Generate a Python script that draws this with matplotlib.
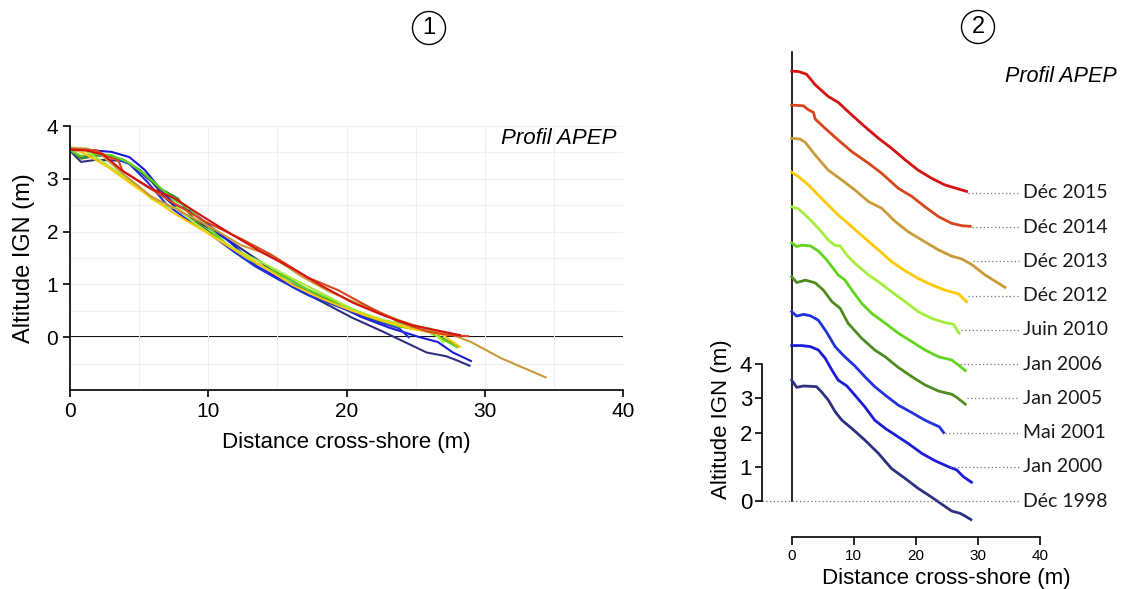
import numpy as np
import matplotlib
matplotlib.use('Agg')
import matplotlib.pyplot as plt
from matplotlib.patches import Ellipse
from matplotlib.ticker import MultipleLocator

plt.rcParams['font.family'] = ['Liberation Sans', 'DejaVu Sans']

# Profile data (distance cross-shore in m, altitude IGN in m)
dist_1998 = [0, 0.8, 1.9, 4.0, 4.8, 5.9, 7.0, 8.1, 9.7, 11.8, 14.0, 16.1, 18.3, 20.4, 22.6, 24.2, 25.8, 27.2, 28.0, 28.9]
alt_1998 = [3.53, 3.32, 3.36, 3.34, 3.19, 2.95, 2.61, 2.36, 2.12, 1.78, 1.39, 0.95, 0.66, 0.37, 0.11, -0.09, -0.29, -0.36, -0.44, -0.54]

dist_2000 = [0, 1.6, 3.0, 4.3, 5.4, 6.5, 7.5, 8.9, 10.2, 11.8, 13.4, 15.1, 16.7, 18.8, 21.0, 23.1, 25.3, 26.6, 27.7, 29.0]
alt_2000 = [3.54, 3.54, 3.51, 3.41, 3.17, 2.82, 2.53, 2.36, 2.09, 1.75, 1.36, 1.12, 0.93, 0.68, 0.39, 0.18, 0.0, -0.09, -0.29, -0.45]

dist_2001 = [0, 0.8, 1.9, 3.0, 4.3, 5.6, 7.0, 8.3, 10.2, 11.8, 13.4, 15.1, 17.2, 19.4, 21.5, 22.8, 23.8, 24.5]
alt_2001 = [3.53, 3.40, 3.45, 3.41, 3.28, 2.94, 2.51, 2.26, 1.94, 1.63, 1.34, 1.09, 0.80, 0.58, 0.36, 0.25, 0.17, 0.0]

dist_2005 = [0, 0.8, 2.2, 3.8, 5.1, 6.5, 7.8, 9.1, 11.3, 13.4, 15.1, 17.2, 19.4, 21.5, 23.7, 25.8, 26.6, 28.0]
alt_2005 = [3.55, 3.38, 3.45, 3.37, 3.16, 2.82, 2.63, 2.19, 1.75, 1.41, 1.21, 0.90, 0.63, 0.39, 0.21, 0.12, 0.03, -0.17]

dist_2006 = [0, 0.8, 1.6, 3.0, 4.3, 5.4, 6.5, 7.5, 8.6, 9.7, 11.3, 12.9, 15.1, 17.2, 19.4, 21.5, 23.7, 25.8, 26.9, 28.0]
alt_2006 = [3.54, 3.43, 3.47, 3.45, 3.30, 3.09, 2.84, 2.60, 2.45, 2.16, 1.77, 1.48, 1.19, 0.90, 0.65, 0.41, 0.21, 0.12, -0.03, -0.19]

dist_2010 = [0, 1.1, 2.2, 3.8, 4.8, 5.9, 7.0, 7.8, 8.9, 10.2, 12.4, 14.0, 16.1, 18.3, 20.4, 22.6, 24.7, 26.1, 26.5, 27.0]
alt_2010 = [3.59, 3.53, 3.35, 3.06, 2.86, 2.62, 2.46, 2.45, 2.18, 1.94, 1.60, 1.40, 1.11, 0.82, 0.53, 0.33, 0.21, 0.16, 0.04, -0.10]

dist_2012 = [0, 1.1, 2.7, 4.3, 5.9, 7.5, 9.7, 11.8, 14.0, 16.1, 18.3, 20.4, 22.6, 24.7, 26.9, 28.2]
alt_2012 = [3.60, 3.47, 3.23, 2.93, 2.64, 2.35, 2.01, 1.67, 1.33, 0.99, 0.72, 0.50, 0.31, 0.16, 0.05, -0.18]

dist_2013 = [0, 1.3, 2.2, 3.8, 5.9, 8.1, 10.2, 12.4, 14.5, 16.7, 18.8, 21.0, 23.7, 25.8, 27.4, 29.0, 31.2, 34.4]
alt_2013 = [3.59, 3.57, 3.47, 3.10, 2.66, 2.37, 2.08, 1.74, 1.55, 1.16, 0.86, 0.62, 0.33, 0.15, 0.07, -0.09, -0.40, -0.76]

dist_2014 = [0, 1.9, 2.7, 3.5, 3.8, 5.4, 7.5, 9.7, 12.4, 14.5, 17.2, 19.4, 21.5, 23.7, 25.8, 27.4, 28.8]
alt_2014 = [3.56, 3.54, 3.42, 3.35, 3.15, 2.88, 2.54, 2.20, 1.86, 1.57, 1.13, 0.89, 0.59, 0.30, 0.11, 0.04, 0.02]

dist_2015 = [0, 1.1, 2.4, 3.8, 5.9, 7.5, 9.7, 11.8, 14.0, 16.1, 18.3, 20.4, 22.6, 24.7, 26.9, 28.2]
alt_2015 = [3.55, 3.54, 3.46, 3.15, 2.81, 2.64, 2.27, 1.93, 1.59, 1.30, 0.96, 0.66, 0.42, 0.23, 0.11, 0.04]

dates = ['Déc 1998', 'Jan 2000', 'Mai 2001', 'Jan 2005', 'Jan 2006',
         'Juin 2010', 'Déc 2012', 'Déc 2013', 'Déc 2014', 'Déc 2015']
distances = [dist_1998, dist_2000, dist_2001, dist_2005, dist_2006,
             dist_2010, dist_2012, dist_2013, dist_2014, dist_2015]
altitudes = [alt_1998, alt_2000, alt_2001, alt_2005, alt_2006,
             alt_2010, alt_2012, alt_2013, alt_2014, alt_2015]
colors = ['#2e3182', '#1c1cd8', '#2233dd', '#4e8c20', '#62d41c',
          '#a4ee3c', '#ffc800', '#c99a38', '#d8461c', '#d41212']

fig = plt.figure(figsize=(11.21, 5.89), dpi=100)

# ---- panel 1: all profiles superimposed ----
ax1 = fig.add_axes([70 / 1121, 1 - 390 / 589, 553 / 1121, 264 / 589])
ax1.set_xlim(0, 40)
ax1.set_ylim(-1, 4)
ax1.xaxis.set_major_locator(MultipleLocator(10))
ax1.xaxis.set_minor_locator(MultipleLocator(5))
ax1.yaxis.set_major_locator(MultipleLocator(1))
ax1.yaxis.set_minor_locator(MultipleLocator(0.5))
ax1.grid(True, which='both', color='#efefef', lw=0.8)
ax1.set_yticks([0, 1, 2, 3, 4])
ax1.tick_params(which='minor', length=0)
ax1.tick_params(which='major', labelsize=15, length=5, width=1.2)
for s in ['top', 'right']:
    ax1.spines[s].set_visible(False)
for s in ['left', 'bottom']:
    ax1.spines[s].set_linewidth(1.2)
ax1.axhline(0, color='black', lw=1.4, zorder=1)
for d, a, c in zip(distances, altitudes, colors):
    ax1.plot(d, a, color=c, lw=1.5, zorder=2)
ax1.set_xlabel('Distance cross-shore (m)', fontsize=16, labelpad=8)
ax1.set_ylabel('Altitude IGN (m)', fontsize=17, labelpad=8)
ax1.text(39.5, 3.77, 'Profil APEP', fontsize=16, style='italic', ha='right', va='center')

# ---- panel 2: profiles shifted by 1 m each ----
ax2 = fig.add_axes([700 / 1121, 1 - 560 / 589, 421 / 1121, 520 / 589])
ax2.set_xlim(-14.79, 53.11)
ax2.set_ylim(-1.72, 13.46)
for s in ['top', 'right']:
    ax2.spines[s].set_visible(False)
ax2.spines['left'].set_position(('data', -4.8))
ax2.spines['left'].set_bounds(0, 4)
ax2.spines['bottom'].set_position(('data', -1.04))
ax2.spines['bottom'].set_bounds(0, 40)
ax2.spines['left'].set_linewidth(1.2)
ax2.spines['bottom'].set_linewidth(1.2)
ax2.set_yticks([0, 1, 2, 3, 4])
ax2.set_xticks([0, 10, 20, 30, 40])
ax2.tick_params(axis='y', labelsize=16, length=5, width=1.2, pad=2)
ax2.tick_params(axis='x', labelsize=11, length=6, width=1.2, pad=3)

ax2.plot([0, 0], [0, 13.1], color='black', lw=1.2)
for i, (d, a, c, lab) in enumerate(zip(distances, altitudes, colors, dates)):
    a = np.array(a)
    d = np.array(d)
    ax2.plot(d, a + i, color=c, lw=2)
    if i == 0:
        x0 = -4.8
    else:
        below = np.where(a <= 0)[0]
        x0 = d[below[0]] if len(below) else d[-1]
        x0 += 0.3
    ax2.plot([x0, 36.6], [i, i], color='#777777', lw=0.9, ls=(0, (1, 2)))
    ax2.text(37.3, i, lab, fontsize=14, family=['Lato', 'DejaVu Sans'],
             ha='left', va='center', color='#1a1a1a')

ax2.text(-11.3, 2.4, 'Altitude IGN (m)', fontsize=16, rotation=90, ha='center', va='center')
ax2.text(24.9, -2.25, 'Distance cross-shore (m)', fontsize=16, ha='center', va='center')
ax2.text(52.5, 12.38, 'Profil APEP', fontsize=15.5, style='italic', ha='right', va='center')

# ---- circled panel numbers ----
for (cx, cy, num) in [(429, 28, '1'), (978, 27, '2')]:
    fx, fy = cx / 1121, 1 - cy / 589
    fig.add_artist(Ellipse((fx, fy), 33 / 1121, 33 / 589, transform=fig.transFigure,
                           fill=False, ec='black', lw=1))
    fig.text(fx, fy, num, fontsize=17, ha='center', va='center')

fig.savefig('out.png', dpi=100)
